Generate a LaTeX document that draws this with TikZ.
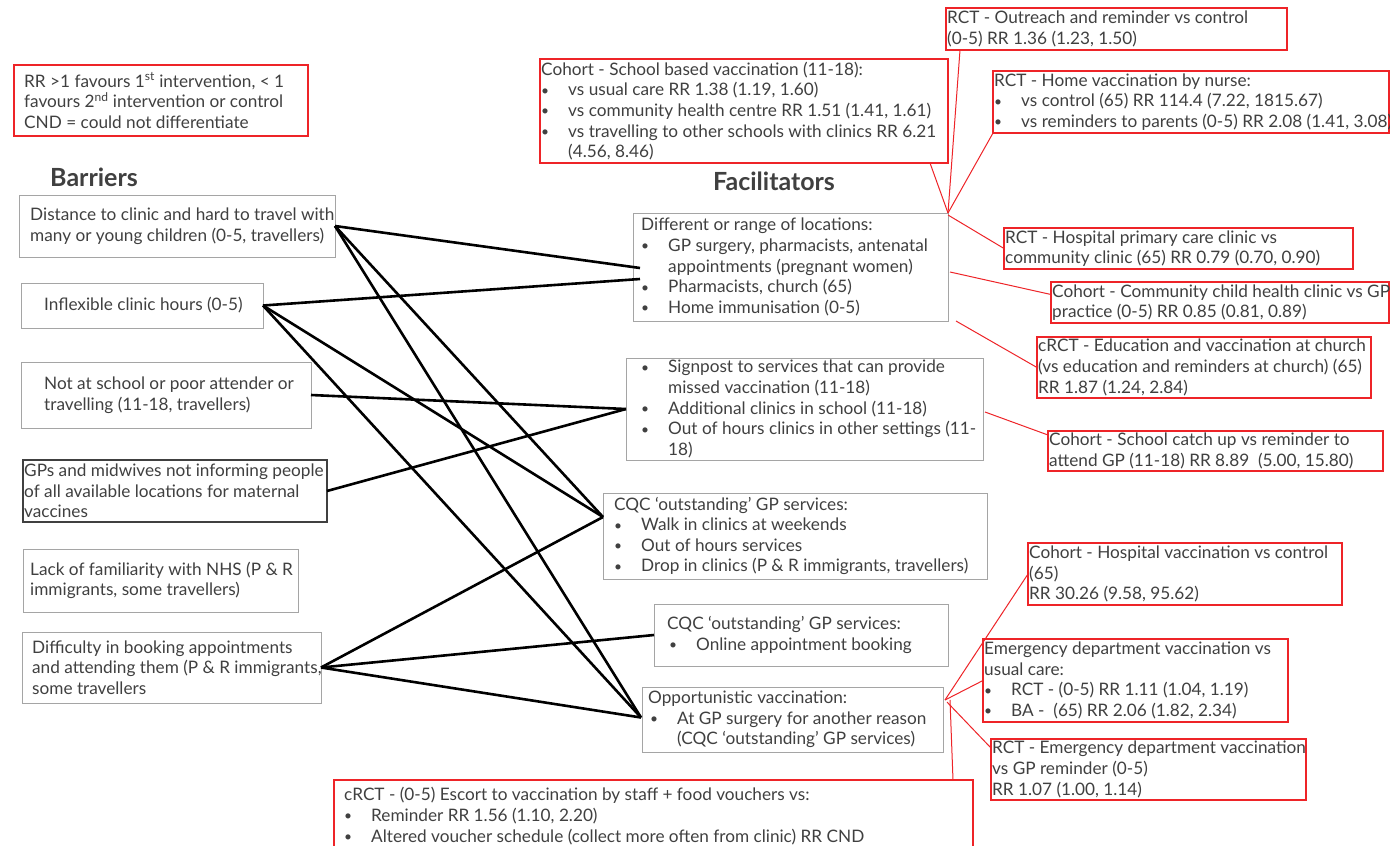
\documentclass[tikz,border=0pt]{standalone}
\usepackage{fontspec}
\usepackage{graphicx}
\setmainfont{Lato}
\definecolor{txtc}{RGB}{64,64,64}
\definecolor{bgray}{RGB}{165,165,165}
\definecolor{redc}{RGB}{238,36,40}
\newcommand\bl[1]{\makebox[27pt][l]{\raisebox{0.5pt}{\scalebox{0.8}{\textbullet}}}#1}
\newcommand\ct[1]{\hspace*{27pt}#1}
\newcommand\boxat[6]{%
  \pgfmathsetmacro\bw{#5-#3}\pgfmathsetmacro\bh{#6-#4}%
  \node[#1, minimum width=\bw pt, minimum height=\bh pt] (#2) at (#3,#4) {};}
\begin{document}
\begin{tikzpicture}[x=1pt,y=-1pt,
  gbox/.style={draw=bgray, line width=1pt, inner sep=0, outer sep=0, anchor=north west},
  dbox/.style={draw=txtc, line width=1.1pt, inner sep=0, outer sep=0, anchor=north west},
  rbox/.style={draw=redc, line width=1.4pt, inner sep=0, outer sep=0, anchor=north west},
  txt/.style={inner sep=0, align=left, anchor=west, text=txtc, font=\fontsize{17.2}{20.6}\selectfont},
  ttl/.style={inner sep=0, text=txtc, font=\fontsize{25}{30}\selectfont\bfseries},
  bline/.style={line width=2.6pt, black},
  rline/.style={draw=redc, line width=1pt}]
\useasboundingbox[fill=white] (0,0) rectangle (1390,846);

% legend
\boxat{rbox}{leg}{14}{65}{308}{136}
\node[txt] (legt) at ([xshift=10pt]leg.west) {RR >1 favours 1\textsuperscript{st} intervention, < 1\\favours 2\textsuperscript{nd} intervention or control\\CND = could not differentiate};

% titles
\node[ttl] (tb) at (94,177) {Barriers};
\node[ttl] (tf) at (774,181) {Facilitators};

% barriers
\boxat{gbox}{b1}{19}{195}{335}{257}
\node[txt] (b1t) at ([xshift=11pt]b1.west) {Distance to clinic and hard to travel with\\many or young children (0-5, travellers)};
\boxat{gbox}{b2}{21}{283}{263}{328}
\node[txt] (b2t) at ([xshift=23pt]b2.west) {Inflexible clinic hours (0-5)};
\boxat{gbox}{b3}{21}{362}{311}{428}
\node[txt] (b3t) at ([xshift=23pt]b3.west) {Not at school or poor attender or\\travelling (11-18, travellers)};
\boxat{dbox}{b4}{23}{460}{327}{522}
\node[txt] (b4t) at ([xshift=1pt]b4.west) {GPs and midwives not informing people\\of all available locations for maternal\\vaccines};
\boxat{gbox}{b5}{23}{549}{298}{612}
\node[txt] (b5t) at ([xshift=7pt]b5.west) {Lack of familiarity with NHS (P \& R\\immigrants, some travellers)};
\boxat{gbox}{b6}{22}{632}{321}{703}
\node[txt] (b6t) at ([xshift=10pt]b6.west) {Difficulty in booking appointments\\and attending them (P \& R immigrants,\\some travellers};

% facilitators
\boxat{gbox}{f1}{633}{213}{948}{321}
\node[txt] (f1t) at ([xshift=8pt]f1.west) {Different or range of locations:\\\bl{GP surgery, pharmacists, antenatal}\\\ct{appointments (pregnant women)}\\\bl{Pharmacists, church (65)}\\\bl{Home immunisation (0-5)}};
\boxat{gbox}{f2}{626}{358}{983}{460}
\node[txt] (f2t) at ([xshift=15pt]f2.west) {\bl{Signpost to services that can provide}\\\ct{missed vaccination (11-18)}\\\bl{Additional clinics in school (11-18)}\\\bl{Out of hours clinics in other settings (11-}\\\ct{18)}};
\boxat{gbox}{f3}{603}{493}{987}{579}
\node[txt] (f3t) at ([xshift=11pt]f3.west) {CQC ‘outstanding’ GP services:\\\bl{Walk in clinics at weekends}\\\bl{Out of hours services}\\\bl{Drop in clinics (P \& R immigrants, travellers)}};
\boxat{gbox}{f4}{654}{604}{948}{666}
\node[txt] (f4t) at ([xshift=13pt]f4.west) {CQC ‘outstanding’ GP services:\\\hspace*{2pt}\bl{Online appointment booking}};
\boxat{gbox}{f5}{642}{687}{943}{752}
\node[txt] (f5t) at ([xshift=6pt]f5.west) {Opportunistic vaccination:\\\hspace*{2pt}\bl{At GP surgery for another reason}\\\hspace*{2pt}\ct{(CQC ‘outstanding’ GP services)}};

% red evidence boxes
\boxat{rbox}{r1}{540}{59}{948}{163}
\node[txt] (r1t) at ([xshift=1pt]r1.west) {Cohort - School based vaccination (11-18):\\\bl{vs usual care RR 1.38 (1.19, 1.60)}\\\bl{vs community health centre RR 1.51 (1.41, 1.61)}\\\bl{vs travelling to other schools with clinics RR 6.21}\\\ct{(4.56, 8.46)}};
\boxat{rbox}{r2}{946}{8}{1287}{50}
\node[txt] (r2t) at ([xshift=1pt]r2.west) {RCT - Outreach and reminder vs control\\(0-5) RR 1.36 (1.23, 1.50)};
\boxat{rbox}{r3}{993}{71}{1389}{133}
\node[txt] (r3t) at ([xshift=1pt]r3.west) {RCT - Home vaccination by nurse:\\\bl{vs control (65) RR 114.4 (7.22, 1815.67)}\\\bl{vs reminders to parents (0-5) RR 2.08 (1.41, 3.08)}};
\boxat{rbox}{r4}{1004}{228}{1353}{269}
\node[txt] (r4t) at ([xshift=1pt]r4.west) {RCT - Hospital primary care clinic vs\\community clinic (65) RR 0.79 (0.70, 0.90)};
\boxat{rbox}{r5}{1051}{282}{1389}{323}
\node[txt] (r5t) at ([xshift=1pt]r5.west) {Cohort - Community child health clinic vs GP\\practice (0-5) RR 0.85 (0.81, 0.89)};
\boxat{rbox}{r6}{1037}{337}{1371}{398}
\node[txt] (r6t) at ([xshift=1pt]r6.west) {cRCT - Education and vaccination at church\\(vs education and reminders at church) (65)\\RR 1.87 (1.24, 2.84)};
\boxat{rbox}{r7}{1048}{431}{1383}{471}
\node[txt] (r7t) at ([xshift=1pt]r7.west) {Cohort - School catch up vs reminder to\\attend GP (11-18) RR 8.89 \ (5.00, 15.80)};
\boxat{rbox}{r8}{1028}{543}{1342}{605}
\node[txt] (r8t) at ([xshift=1pt]r8.west) {Cohort - Hospital vaccination vs control\\(65)\\RR 30.26 (9.58, 95.62)};
\boxat{rbox}{r9}{983}{639}{1288}{722}
\node[txt] (r9t) at ([xshift=1pt]r9.west) {Emergency department vaccination vs\\usual care:\\\bl{RCT - (0-5) RR 1.11 (1.04, 1.19)}\\\bl{BA - \ (65) RR 2.06 (1.82, 2.34)}};
\boxat{rbox}{r10}{991}{739}{1306}{800}
\node[txt] (r10t) at ([xshift=1pt]r10.west) {RCT - Emergency department vaccination\\vs GP reminder (0-5)\\RR 1.07 (1.00, 1.14)};
\boxat{rbox}{r11}{334}{780}{973}{852}
\node[txt] (r11t) at ([xshift=10pt]r11.west) {cRCT - (0-5) Escort to vaccination by staff + food vouchers vs:\\\bl{Reminder RR 1.56 (1.10, 2.20)}\\\bl{Altered voucher schedule (collect more often from clinic) RR CND}};

% black connectors
\draw[bline] (b1.east) -- ([xshift=7pt,yshift=-1pt]f1.west);
\draw[bline] (b1.east) -- ([yshift=-24pt]f3.north west);
\draw[bline] (b1.east) -- ([xshift=-1pt,yshift=2pt]f5.west);
\draw[bline] (b2.east) -- ([xshift=7pt,yshift=-12pt]f1.west);
\draw[bline] (b2.east) -- ([yshift=-24pt]f3.north west);
\draw[bline] (b2.east) -- ([xshift=-1pt,yshift=2pt]f5.west);
\draw[bline] (b3.east) -- (f2.west);
\draw[bline] (b4.east) -- (f2.west);
\draw[bline] (b6.east) -- ([yshift=-24pt]f3.north west);
\draw[bline] (b6.east) -- (f4.west);
\draw[bline] (b6.east) -- ([xshift=-1pt,yshift=2pt]f5.west);

% red connectors
\draw[rline] ([xshift=-18pt]r1.south east) -- (f1.north east);
\draw[rline] ([xshift=14pt]r2.south west) -- (f1.north east);
\draw[rline] (r3.south west) -- (f1.north east);
\draw[rline] (r4.west) -- ([yshift=-2pt]f1.north east);
\draw[rline] ([xshift=2pt,yshift=-5pt]f1.east) -- ([yshift=8pt]r5.west);
\draw[rline] ([xshift=8pt]f1.south east) -- (r6.west);
\draw[rline] ([xshift=2pt,yshift=-3pt]f2.east) -- ([yshift=-4pt]r7.north west);
\draw[rline] ([xshift=2pt,yshift=-13pt]f5.north east) -- (r8.west);
\draw[rline] ([xshift=2pt,yshift=-13pt]f5.north east) -- (r9.west);
\draw[rline] ([xshift=4pt,yshift=-15pt]f5.north east) -- ([yshift=-9pt]r10.north west);
\draw[rline] ([xshift=7pt,yshift=-13pt]f5.north east) -- ([xshift=-20pt]r11.north east);
\end{tikzpicture}
\end{document}
